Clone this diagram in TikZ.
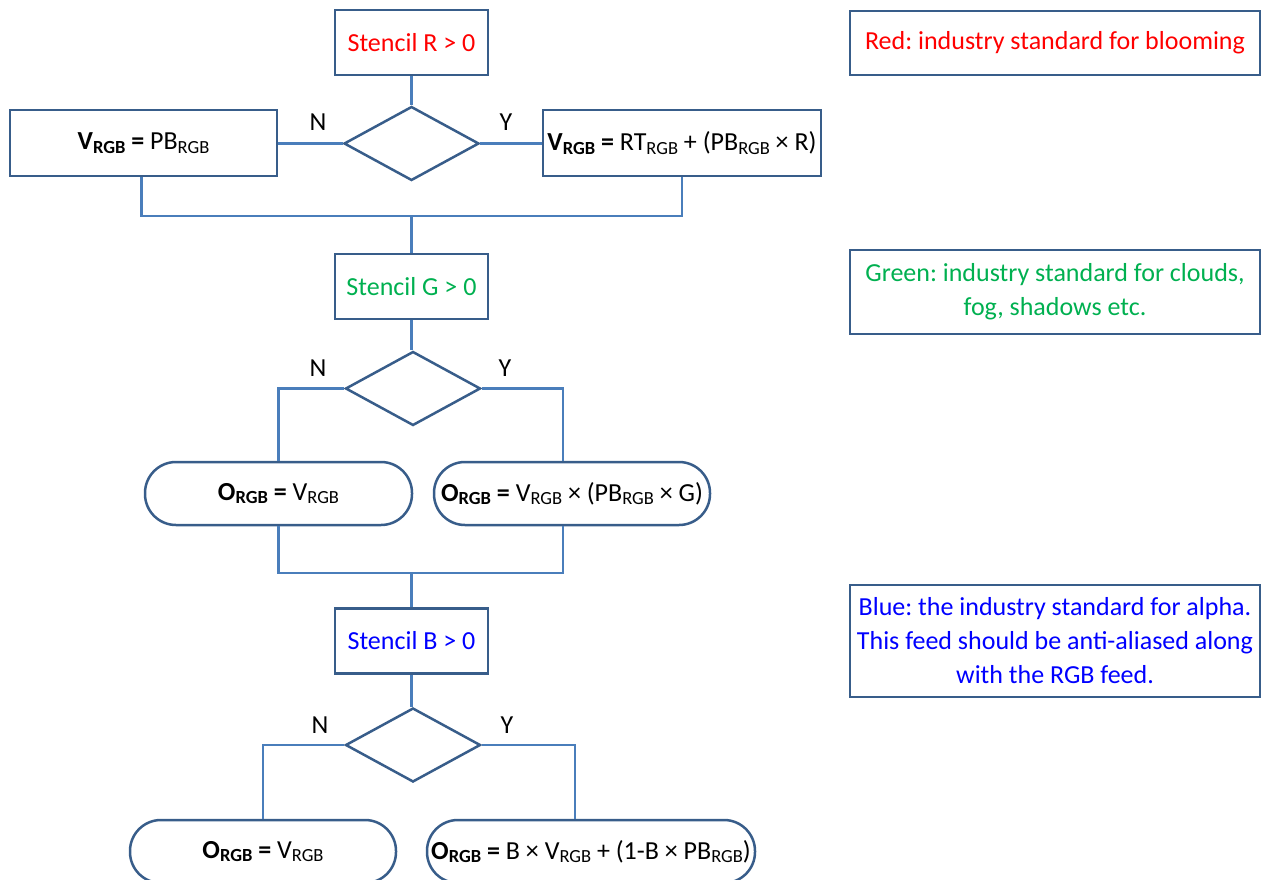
\documentclass[tikz,border=0pt]{standalone}
\usepackage{fontspec}
\setmainfont{Carlito}
\usepackage{tikz}
\usetikzlibrary{shapes.geometric, positioning}
\usepackage{xcolor}
\definecolor{edgeblue}{HTML}{385D8A}
\definecolor{lineblue}{HTML}{4A7EBB}
\definecolor{stdred}{HTML}{FF0000}
\definecolor{stdgreen}{HTML}{00B050}
\definecolor{stdblue}{HTML}{0000FF}
\newcommand{\lo}[1]{\raisebox{-0.3ex}{\fontsize{18.5}{18.5}\selectfont #1}}
\newcommand{\blo}[1]{\raisebox{-0.3ex}{\fontsize{18.5}{18.5}\selectfont\bfseries #1}}
\frenchspacing

\begin{document}
\begin{tikzpicture}[x=1pt, y=-1pt, font=\fontsize{26}{34}\selectfont]
    \tikzstyle{stencil} = [draw=edgeblue, line width=2.5pt, minimum width=153pt, minimum height=65pt]
    \tikzstyle{decision} = [diamond, draw=edgeblue, line width=2.5pt, inner sep=0pt, minimum width=135pt, minimum height=74pt]
    \tikzstyle{calc} = [draw=edgeblue, line width=2.5pt, minimum height=66pt, inner sep=2pt]
    \tikzstyle{result} = [draw=edgeblue, line width=2.5pt, rounded corners=31pt, minimum height=63pt, inner sep=2pt]
    \tikzstyle{note} = [draw=edgeblue, line width=2.5pt, minimum width=410pt, align=center, inner sep=3pt]
    \tikzstyle{wire} = [draw=lineblue, line width=2.5pt]
    \useasboundingbox (0,0) rectangle (1262,880);

    % red channel
    \node [stencil, text=stdred] at (411.5,42.5) (stencilr) {Stencil R > 0};
    \node [decision, below=29pt of stencilr] (decr) {};
    \node [calc, minimum width=267pt] at (143.5,143) (vleft) {\textbf{V\blo{RGB} =} PB\lo{RGB}};
    \node [calc, minimum width=278pt] at (682,143) (vright) {\textbf{V\blo{RGB} =} RT\lo{RGB} + (PB\lo{RGB} × R)};
    \node at (318,122) (nr) {N};
    \node at (506,122) (yr) {Y};
    \coordinate (joinr) at (411.5,216);

    % green channel
    \node [stencil, text=stdgreen] at (411.5,286.5) (stencilg) {Stencil G > 0};
    \node [decision, below=30pt of stencilg, xshift=1.5pt] (decg) {};
    \node [result, minimum width=267pt] at (278.5,493.5) (ogleft) {\textbf{O\blo{RGB} =} V\lo{RGB}};
    \node [result, minimum width=276pt] at (572,493.5) (ogright) {\textbf{O\blo{RGB} =} V\lo{RGB} × (PB\lo{RGB} × G)};
    \node at (318,368) (ng) {N};
    \node at (505,368) (yg) {Y};
    \coordinate (joing) at (411.5,573);

    % blue channel
    \node [stencil, text=stdblue] at (411.5,641) (stencilb) {Stencil B > 0};
    \node [decision, below=32pt of stencilb, xshift=1.5pt] (decb) {};
    \node [result, minimum width=266pt] at (263,851.5) (obleft) {\textbf{O\blo{RGB} =} V\lo{RGB}};
    \node [result, minimum width=328pt] at (591,851.5) (obright) {\textbf{O\blo{RGB} =} B × V\lo{RGB} + (1-B × PB\lo{RGB})};
    \node at (320,725) (nb) {N};
    \node at (507,725) (yb) {Y};

    % notes
    \node [note, text=stdred, minimum height=64pt] at (1055,43) (rednote) {Red: industry standard for blooming};
    \node [note, text=stdgreen, minimum height=84pt] at (1055,292) (greennote) {Green: industry standard for clouds,\\fog, shadows etc.};
    \node [note, text=stdblue, minimum height=112pt] at (1055,641) (bluenote) {Blue: the industry standard for alpha.\\This feed should be anti-aliased along\\with the RGB feed.};

    % connectors
    \draw [wire] (stencilr.south) -- (decr.north);
    \draw [wire] (decr.west) -- (decr.west -| vleft.east);
    \draw [wire] (decr.east) -- (decr.east -| vright.west);
    \draw [wire] ([xshift=-2pt]vleft.south) |- (joinr) -| (vright.south);
    \draw [wire] (joinr) -- (stencilg.north);
    \draw [wire] (stencilg.south) -- (stencilg.south |- decg.north);
    \draw [wire] (decg.west) -| (ogleft.north);
    \draw [wire] (decg.east) -| ([xshift=-9pt]ogright.north);
    \draw [wire] (ogleft.south) |- (joing) -| ([xshift=-9pt]ogright.south);
    \draw [wire] (joing) -- (stencilb.north);
    \draw [wire] (stencilb.south) -- (stencilb.south |- decb.north);
    \draw [wire] (decb.west) -| (obleft.north);
    \draw [wire] (decb.east) -| ([xshift=-16pt]obright.north);
\end{tikzpicture}
\end{document}
